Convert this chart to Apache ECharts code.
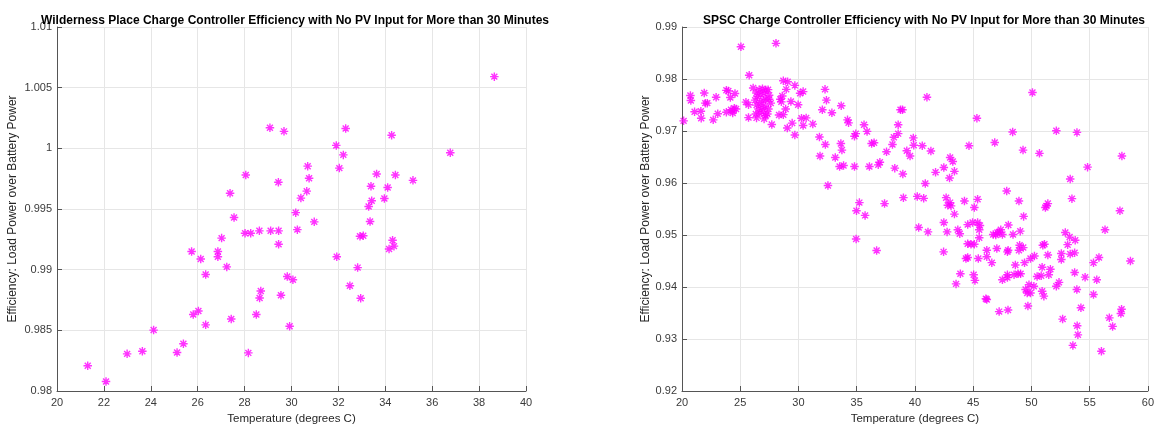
<!DOCTYPE html>
<html>
<head>
<meta charset="utf-8">
<script src="https://cdn.jsdelivr.net/npm/echarts@6/dist/echarts.min.js"></script>
<style>
html,body{margin:0;padding:0;background:#fff;}
#chart{width:1157px;height:430px;}
</style>
</head>
<body>
<div id="chart"></div>
<script>
// Wilderness Place data
const wpTemp = [21.31,22.09,22.99,23.64,24.12,25.12,25.39,25.74,25.81,26.03,26.13,26.34,26.34,26.86,26.86,27.02,27.24,27.38,27.43,27.55,28.02,28.05,28.16,28.26,28.50,28.63,28.64,28.69,29.08,29.11,29.44,29.45,29.45,29.55,29.68,29.82,29.92,30.06,30.18,30.25,30.40,30.65,30.69,30.75,30.97,31.91,31.93,32.04,32.21,32.31,32.49,32.82,32.92,32.95,33.06,33.29,33.35,33.39,33.42,33.63,33.96,34.10,34.16,34.27,34.31,34.37,34.43,35.18,36.77,38.65];
const wpEff = [0.98208,0.98078,0.98306,0.98327,0.98502,0.98317,0.98390,0.99150,0.98630,0.98659,0.99088,0.98960,0.98545,0.99150,0.99107,0.99260,0.99023,0.99630,0.98594,0.99430,0.99300,0.99780,0.98314,0.99300,0.98630,0.99320,0.98767,0.98824,1.00170,0.99320,0.99720,0.99320,0.99210,0.98789,1.00140,0.98944,0.98534,0.98917,0.99470,0.99330,0.99590,0.99647,0.99853,0.99753,0.99394,1.00024,0.99107,0.99837,0.99946,1.00163,0.98868,0.99017,0.99275,0.98765,0.99280,0.99520,0.99397,0.99688,0.99568,0.99788,0.99587,0.99677,0.99170,1.00108,0.99243,0.99194,0.99780,0.99736,0.99964,1.00591];

// SPSC data
const spscTemp = [20.14,25.06,28.07,25.77,20.72,20.76,21.08,21.62,21.65,21.91,22.00,22.17,22.68,22.93,23.07,23.81,23.98,24.15,24.55,23.81,24.21,24.35,24.49,24.64,24.35,25.49,25.71,25.71,26.11,26.39,26.62,26.91,27.20,27.39,
26.28,26.48,26.77,27.05,27.48,26.40,26.68,26.97,27.19,27.48,27.62,26.57,26.85,27.13,27.42,26.34,26.68,26.97,27.33,26.40,27.05,27.19,
27.71,28.44,28.61,28.53,28.70,29.07,28.95,28.33,28.70,28.90,29.04,29.46,29.69,29.35,29.69,29.97,30.14,30.40,30.26,30.66,30.40,31.23,31.80,32.28,32.40,32.05,32.87,32.31,31.85,33.16,33.67,34.21,34.30,33.64,33.73,33.53,33.87,34.81,34.92,34.81,35.63,35.89,36.28,36.49,36.09,36.85,36.99,37.56,38.07,38.19,38.56,38.56,38.76,38.93,38.27,39.30,
41.03,50.09,45.32,39.86,39.90,39.58,40.63,41.37,44.64,46.85,48.39,49.28,50.69,52.14,53.91,43.02,43.25,42.48,54.82,57.77,
38.96,32.53,35.23,34.98,35.72,37.39,39.01,34.95,36.71,
41.77,43.39,42.97,40.89,53.33,40.20,40.75,42.68,43.02,43.10,42.82,44.25,45.38,45.10,43.39,47.88,48.93,49.33,51.29,51.41,51.20,53.48,57.60,56.32,58.50,42.48,42.76,40.32,41.12,43.68,43.85,44.53,44.95,45.38,45.58,45.52,45.52,44.53,44.81,45.10,42.46,44.38,44.53,45.44,46.17,46.17,46.60,47.03,46.72,47.08,47.37,47.51,47.23,46.94,48.02,48.42,49.04,48.00,47.94,48.99,49.30,48.93,48.62,49.41,49.92,50.26,50.98,51.12,51.41,50.92,51.63,50.84,51.49,50.49,52.57,52.57,53.33,53.71,52.91,53.28,53.76,53.11,55.80,55.33,53.71,54.61,55.61,53.90,52.37,52.14,47.51,47.94,47.94,48.51,48.85,49.07,45.04,45.15,43.90,43.53,49.79,49.50,50.21,49.92,50.92,51.07,49.64,55.33,
46.09,46.17,47.23,47.99,49.70,54.25,52.68,53.93,53.99,53.56,56.01,56.69,56.97,57.74,57.68];
const spscEff = [0.97195,0.98621,0.98686,0.98072,0.97682,0.97587,0.97371,0.97379,0.97246,0.97731,0.97536,0.97536,0.97214,0.97650,0.97333,0.97782,0.97769,0.97644,0.97720,0.97360,0.97410,0.97384,0.97436,0.97422,0.97347,0.97555,0.97504,0.97258,0.97826,0.97731,0.97795,0.97814,0.97788,0.97795,
0.97593,0.97662,0.97700,0.97725,0.97688,0.97498,0.97549,0.97580,0.97612,0.97612,0.97536,0.97422,0.97454,0.97473,0.97422,0.97328,0.97340,0.97372,0.97328,0.97252,0.97233,0.97296,
0.97125,0.97612,0.97674,0.97561,0.97966,0.97947,0.97801,0.97309,0.97314,0.97422,0.97057,0.97152,0.96924,0.97568,0.97877,0.97504,0.97725,0.97758,0.97246,0.97252,0.97106,0.97133,0.96886,0.97801,0.97593,0.97410,0.97352,0.96740,0.96519,0.96489,0.97485,0.97214,0.97157,0.96760,0.96633,0.96318,0.96337,0.96318,0.96949,0.96898,0.97119,0.96992,0.96760,0.96773,0.96318,0.96349,0.96400,0.96602,0.96740,0.96879,0.96949,0.97119,0.97410,0.97410,0.96286,0.96621,
0.97650,0.97739,0.97246,0.96867,0.96727,0.96519,0.96716,0.96614,0.96716,0.96778,0.96981,0.96633,0.96570,0.97006,0.96973,0.96489,0.96413,0.96299,0.96305,0.96519,
0.96172,0.95951,0.95623,0.95466,0.95377,0.95604,0.95718,0.94922,0.94701,
0.96205,0.96224,0.96097,0.95989,0.96078,0.95742,0.95705,0.95718,0.95623,0.95560,0.95572,0.95655,0.95686,0.95528,0.95402,0.95845,0.95655,0.95358,0.95560,0.95604,0.95528,0.95699,0.95466,0.95100,0.94500,0.95239,0.95060,0.95144,0.95060,0.95100,0.95023,0.95200,0.95239,0.95239,0.95182,0.95100,0.94947,0.94833,0.94822,0.94822,0.94676,0.94549,0.94568,0.94549,0.94581,0.94708,0.94468,0.94739,0.95011,0.95049,0.95100,0.95011,0.95055,0.95000,0.95193,0.95011,0.95074,0.94708,0.94676,0.94803,0.94758,0.94708,0.94424,0.94468,0.94549,0.94595,0.94803,0.94822,0.94614,0.94379,0.94341,0.94216,0.94235,0.94203,0.94644,0.94530,0.94633,0.94657,0.95049,0.94960,0.94898,0.94814,0.94568,0.94468,0.94278,0.94189,0.94140,0.93951,0.94089,0.94013,0.94140,0.94235,0.94184,0.94235,0.94254,0.94254,0.94235,0.94127,0.94254,0.94060,0.94045,0.93951,0.94013,0.93886,0.93918,0.93824,0.93886,0.93856,
0.93773,0.93761,0.93527,0.93559,0.93634,0.93602,0.93383,0.93256,0.93080,0.92877,0.92763,0.93407,0.93242,0.93572,0.93489];

const titles = ['Wilderness Place Charge Controller Efficiency with No PV Input for More than 30 Minutes',
                'SPSC Charge Controller Efficiency with No PV Input for More than 30 Minutes'];
const xName = 'Temperature (degrees C)';
const yName = 'Efficiency: Load Power over Battery Power';

const wpData = wpTemp.map((t, i) => [t, wpEff[i]]);
const spscData = spscTemp.map((t, i) => [t, spscEff[i]]);

const FONT = '"Liberation Sans", Arial, Helvetica, sans-serif';
const STAR = 'path://M0,-10L0,10M-10,0L10,0M-7,-7L7,7M-7,7L7,-7';

function xAx(gi, min, max, interval) {
  return {
    gridIndex: gi, type: 'value', min: min, max: max, interval: interval,
    name: xName, nameLocation: 'middle', nameGap: 22,
    nameTextStyle: {fontFamily: FONT, fontSize: 11.5, color: '#262626'},
    axisLine: {show: true, onZero: false, lineStyle: {color: '#555', width: 1}},
    axisTick: {show: true, inside: true, length: 5, lineStyle: {color: '#555'}},
    axisLabel: {fontFamily: FONT, fontSize: 11, color: '#3a3a3a', margin: 6},
    splitLine: {show: true, lineStyle: {color: '#e6e6e6', width: 1}}
  };
}
function yAx(gi, min, max, interval, gap) {
  return {
    gridIndex: gi, type: 'value', min: min, max: max, interval: interval,
    name: yName, nameLocation: 'middle', nameGap: gap, nameRotate: 90,
    nameTextStyle: {fontFamily: FONT, fontSize: 12, color: '#262626'},
    axisLine: {show: true, onZero: false, lineStyle: {color: '#555', width: 1}},
    axisTick: {show: true, inside: true, length: 5, lineStyle: {color: '#555'}},
    axisLabel: {fontFamily: FONT, fontSize: 11, color: '#3a3a3a', margin: 5},
    splitLine: {show: true, lineStyle: {color: '#e6e6e6', width: 1}}
  };
}

const chart = echarts.init(document.getElementById('chart'), null, {renderer: 'canvas'});
chart.setOption({
  animation: false,
  backgroundColor: '#fff',
  title: [
    {text: titles[0], left: 290, top: 10, textAlign: 'center',
     textStyle: {fontFamily: FONT, fontSize: 12, fontWeight: 'bold', color: '#000'}},
    {text: titles[1], left: 919, top: 10, textAlign: 'center',
     textStyle: {fontFamily: FONT, fontSize: 12, fontWeight: 'bold', color: '#000'}}
  ],
  grid: [
    {left: 57, top: 27, width: 469, height: 369, containLabel: false},
    {left: 682, top: 27, width: 470, height: 369, containLabel: false}
  ],
  xAxis: [xAx(0, 20, 40, 2), xAx(1, 20, 60, 5)],
  yAxis: [yAx(0, 0.98, 1.01, 0.005, 38), yAx(1, 0.92, 0.99, 0.01, 30)],
  series: [
    {type: 'scatter', xAxisIndex: 0, yAxisIndex: 0, data: wpData,
     symbol: STAR, symbolSize: 8.5,
     itemStyle: {color: '#ff00ff', borderColor: '#ff00ff', borderWidth: 1.4}},
    {type: 'scatter', xAxisIndex: 1, yAxisIndex: 1, data: spscData,
     symbol: STAR, symbolSize: 8.5,
     itemStyle: {color: '#ff00ff', borderColor: '#ff00ff', borderWidth: 1.4}}
  ]
});
</script>
</body>
</html>
